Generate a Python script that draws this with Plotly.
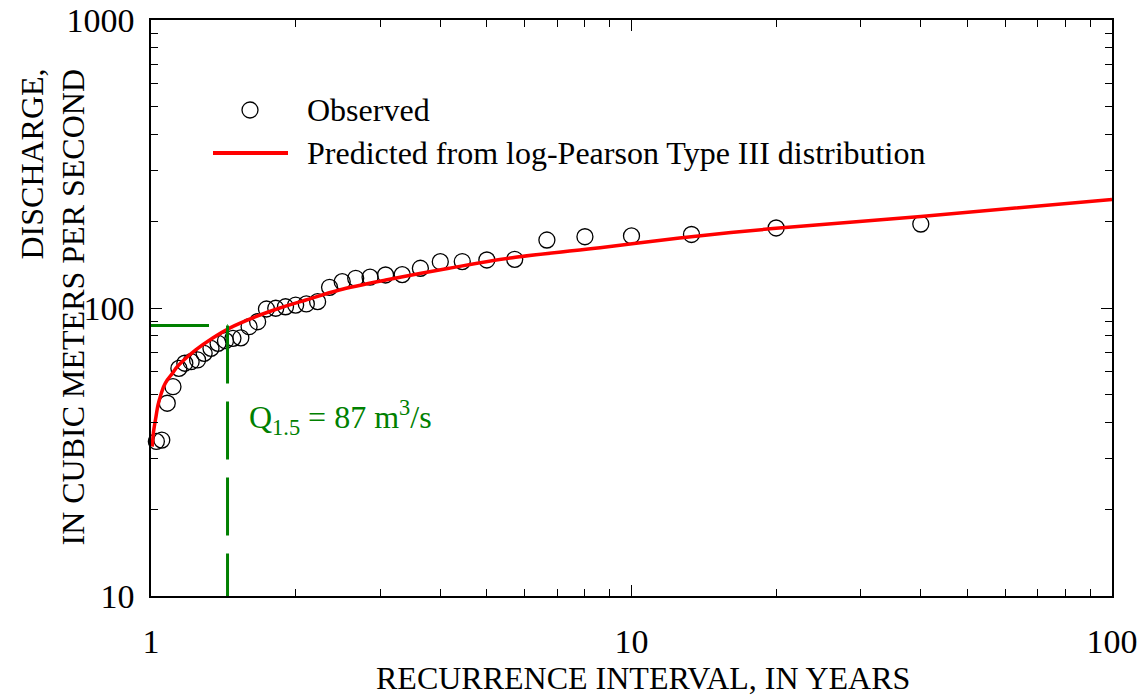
import plotly.graph_objects as go

# ---- data ----
T_obs = [1.026, 1.053, 1.081, 1.111, 1.143, 1.176, 1.212, 1.25, 1.29, 1.333,
         1.379, 1.429, 1.481, 1.538, 1.6, 1.667, 1.739, 1.818, 1.905, 2.0,
         2.105, 2.222, 2.353, 2.5, 2.667, 2.857, 3.077, 3.333, 3.636, 4.0,
         4.444, 5.0, 5.714, 6.667, 8.0, 10.0, 13.33, 20.0, 40.0]
Q_obs = [34.4, 34.8, 46.7, 53.3, 61.7, 64.3, 65.1, 66.0, 69.6, 72.4,
         75.4, 77.0, 78.5, 78.8, 86.1, 89.6, 99.2, 99.8, 101.0, 102.4,
         103.3, 105.2, 118.0, 123.4, 126.8, 127.9, 130.2, 130.6, 137.4, 144.8,
         145.0, 146.8, 147.6, 172.2, 176.8, 178.0, 180.0, 189.6, 195.7]

T_pred = [1.006, 1.012, 1.023, 1.034, 1.048, 1.064, 1.081, 1.108, 1.133, 1.162,
          1.239, 1.342, 1.454, 1.652, 1.848, 2.10, 2.465, 3.08, 4.17, 5.65,
          8.6, 12.59, 19.7, 40.0, 100.0]
Q_pred = [33.0, 37.1, 41.5, 46.0, 49.9, 53.6, 56.2, 59.3, 62.4, 65.2,
          71.5, 78.5, 85.0, 93.3, 99.8, 106.6, 115.5, 125.0, 137.4, 149.5,
          162.0, 175.0, 188.8, 208.0, 238.1]

Q15 = 87.0          # discharge at 1.5-year recurrence
T_mark = 1.443      # where the vertical guide is drawn
x_ticks = [1, 10, 100]
y_ticks = [10, 100, 1000]
x_minor = [2, 3, 4, 5, 6, 7, 8, 9, 20, 30, 40, 50, 60, 70, 80, 90]
y_minor = [20, 30, 40, 50, 60, 70, 80, 90, 200, 300, 400, 500, 600, 700, 800, 900]

FONT = "Liberation Serif, Times New Roman, serif"
GREEN = "#008000"

fig = go.Figure()

fig.add_trace(go.Scatter(
    x=T_obs, y=Q_obs, mode="markers", name="Observed",
    marker=dict(symbol="circle-open", size=16, color="black",
                line=dict(width=1.3, color="black")),
    showlegend=False, cliponaxis=False))

fig.add_trace(go.Scatter(
    x=T_pred, y=Q_pred, mode="lines",
    name="Predicted from log-Pearson Type III distribution",
    line=dict(color="#ff0000", width=3.5, shape="spline", smoothing=0.8),
    showlegend=False))

# green guides
fig.add_trace(go.Scatter(
    x=[1, T_mark], y=[Q15, Q15], mode="lines", showlegend=False,
    line=dict(color=GREEN, width=3, dash="58px,18px")))
fig.add_trace(go.Scatter(
    x=[T_mark, T_mark], y=[Q15, 10], mode="lines", showlegend=False,
    line=dict(color=GREEN, width=3, dash="58px,18px"), cliponaxis=False))

W, H = 1140, 696
L, R, T, B = 151, 28, 20, 100
pw, ph = W - L - R, H - T - B


def px(xp):
    return (xp - L) / pw


def py(yp):
    return (H - B - yp) / ph


shapes = [
    dict(type="circle", xref="paper", yref="paper", xsizemode="pixel", ysizemode="pixel",
         xanchor=px(250), yanchor=py(110), x0=-8, x1=8, y0=-8, y1=8,
         line=dict(color="black", width=1.3)),
    dict(type="line", xref="paper", yref="paper", x0=px(213), x1=px(288),
         y0=py(153), y1=py(153), line=dict(color="#ff0000", width=4)),
]

annotations = [
    dict(text="Observed", xref="paper", yref="paper", x=px(305), y=py(110),
         xanchor="left", yanchor="middle", showarrow=False,
         font=dict(family=FONT, size=32, color="black")),
    dict(text="Predicted from log-Pearson Type III distribution", xref="paper", yref="paper",
         x=px(305), y=py(153), xanchor="left", yanchor="middle", showarrow=False,
         font=dict(family=FONT, size=32, color="black")),
    dict(text="Q<sub>1.5</sub> = 87 m<sup>3</sup>/s", xref="paper", yref="paper",
         x=px(247), y=py(417), xanchor="left", yanchor="middle", showarrow=False,
         font=dict(family=FONT, size=32, color=GREEN)),
    dict(text="RECURRENCE INTERVAL, IN YEARS", xref="paper", yref="paper",
         x=px(643), y=py(678), xanchor="center", yanchor="middle", showarrow=False,
         font=dict(family=FONT, size=32, color="black")),
    dict(text="DISCHARGE,", xref="paper", yref="paper", textangle=-90,
         x=px(31), y=py(67), xanchor="center", yanchor="top", showarrow=False,
         font=dict(family=FONT, size=32, color="black")),
    dict(text="IN CUBIC METERS PER SECOND", xref="paper", yref="paper", textangle=-90,
         x=px(72), y=py(67), xanchor="center", yanchor="top", showarrow=False,
         font=dict(family=FONT, size=32, color="black")),
]

axis_common = dict(
    showgrid=False, zeroline=False, showline=True, linecolor="black", linewidth=1.5,
    mirror="ticks", ticks="inside", ticklen=11, tickwidth=1.3, tickcolor="black",
    tickfont=dict(family=FONT, size=34, color="black"), automargin=False,
)

fig.update_layout(
    width=W, height=H,
    margin=dict(l=L, r=R, t=T, b=B, pad=0, autoexpand=False),
    paper_bgcolor="white", plot_bgcolor="white",
    showlegend=False,
    xaxis=dict(type="log", range=[0, 2], tickvals=x_ticks, ticktext=[str(v) for v in x_ticks],
               ticklabelstandoff=14,
               minor=dict(ticks="inside", ticklen=7, tickwidth=1, tickcolor="black",
                          tickvals=x_minor, showgrid=False),
               **axis_common),
    yaxis=dict(type="log", range=[1, 3], tickvals=y_ticks, ticktext=[str(v) for v in y_ticks],
               ticklabelstandoff=8,
               minor=dict(ticks="inside", ticklen=7, tickwidth=1, tickcolor="black",
                          tickvals=y_minor, showgrid=False),
               **axis_common),
    shapes=shapes,
    annotations=annotations,
)

fig.write_html(
    "out.html",
    config={"displayModeBar": False},
    post_script="document.body.style.margin='0';document.body.style.padding='0';"
                "document.body.style.overflow='hidden';",
)
